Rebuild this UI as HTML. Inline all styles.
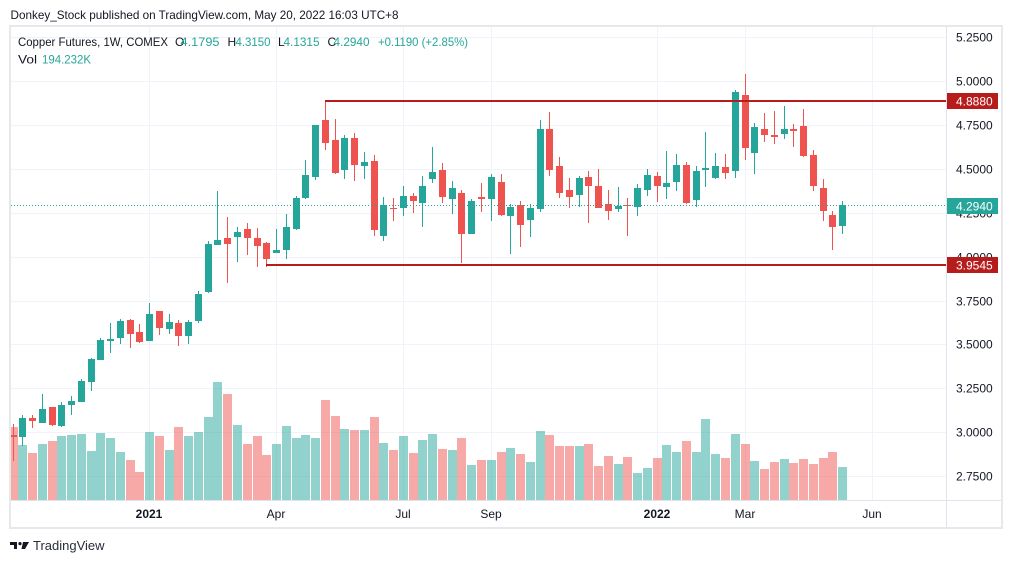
<!DOCTYPE html>
<html><head><meta charset="utf-8"><style>
html,body{margin:0;padding:0;background:#fff;}
svg{display:block;}
text{font-family:"Liberation Sans",sans-serif;}
</style></head><body>
<svg width="1012" height="563" viewBox="0 0 1012 563" xmlns="http://www.w3.org/2000/svg">
<defs><clipPath id="pc"><rect x="11" y="27" width="935" height="473"/></clipPath></defs>
<rect x="0" y="0" width="1012" height="563" fill="#fff"/>
<text x="10.5" y="19" font-size="12" fill="#131722" textLength="388" lengthAdjust="spacingAndGlyphs">Donkey_Stock published on TradingView.com, May 20, 2022 16:03 UTC+8</text>
<rect x="10" y="26" width="992" height="502" fill="#fff" stroke="#e6e8ec" stroke-width="2"/>
<g stroke="#f0f3fa" stroke-width="1">
<line x1="11" y1="37.5" x2="946" y2="37.5"/><line x1="11" y1="81.5" x2="946" y2="81.5"/><line x1="11" y1="125.5" x2="946" y2="125.5"/><line x1="11" y1="169.5" x2="946" y2="169.5"/><line x1="11" y1="213.5" x2="946" y2="213.5"/><line x1="11" y1="257.5" x2="946" y2="257.5"/><line x1="11" y1="301.5" x2="946" y2="301.5"/><line x1="11" y1="344.5" x2="946" y2="344.5"/><line x1="11" y1="388.5" x2="946" y2="388.5"/><line x1="11" y1="432.5" x2="946" y2="432.5"/><line x1="11" y1="476.5" x2="946" y2="476.5"/>
<line x1="149.5" y1="27" x2="149.5" y2="500"/><line x1="276.5" y1="27" x2="276.5" y2="500"/><line x1="403.5" y1="27" x2="403.5" y2="500"/><line x1="491.5" y1="27" x2="491.5" y2="500"/><line x1="657.5" y1="27" x2="657.5" y2="500"/><line x1="745.5" y1="27" x2="745.5" y2="500"/><line x1="872.5" y1="27" x2="872.5" y2="500"/>
</g>
<g clip-path="url(#pc)">
<g fill="#26a69a" fill-opacity="0.5">
<rect x="18" y="445" width="9" height="55"/><rect x="38" y="444" width="9" height="56"/><rect x="57" y="436" width="9" height="64"/><rect x="67" y="435" width="9" height="65"/><rect x="77" y="434" width="9" height="66"/><rect x="87" y="451" width="9" height="49"/><rect x="96" y="433" width="9" height="67"/><rect x="106" y="438" width="9" height="62"/><rect x="116" y="452" width="9" height="48"/><rect x="145" y="432" width="9" height="68"/><rect x="165" y="450" width="9" height="50"/><rect x="184" y="436" width="9" height="64"/><rect x="194" y="432" width="9" height="68"/><rect x="204" y="417" width="9" height="83"/><rect x="213" y="382" width="9" height="118"/><rect x="233" y="425" width="9" height="75"/><rect x="272" y="444" width="9" height="56"/><rect x="282" y="426" width="9" height="74"/><rect x="292" y="438" width="9" height="62"/><rect x="301" y="435" width="9" height="65"/><rect x="311" y="438" width="9" height="62"/><rect x="340" y="429" width="9" height="71"/><rect x="360" y="430" width="9" height="70"/><rect x="379" y="443" width="9" height="57"/><rect x="399" y="436" width="9" height="64"/><rect x="418" y="440" width="9" height="60"/><rect x="428" y="434" width="9" height="66"/><rect x="448" y="450" width="9" height="50"/><rect x="467" y="465" width="9" height="35"/><rect x="487" y="460" width="9" height="40"/><rect x="506" y="448" width="9" height="52"/><rect x="526" y="462" width="9" height="38"/><rect x="536" y="431" width="9" height="69"/><rect x="575" y="446" width="9" height="54"/><rect x="614" y="464" width="9" height="36"/><rect x="633" y="473" width="9" height="27"/><rect x="643" y="468" width="9" height="32"/><rect x="662" y="445" width="9" height="55"/><rect x="672" y="452" width="9" height="48"/><rect x="692" y="452" width="9" height="48"/><rect x="701" y="419" width="9" height="81"/><rect x="711" y="454" width="9" height="46"/><rect x="731" y="434" width="9" height="66"/><rect x="750" y="461" width="9" height="39"/><rect x="780" y="459" width="9" height="41"/><rect x="838" y="467" width="9" height="33"/>
</g>
<g fill="#ef5350" fill-opacity="0.5">
<rect x="9" y="427" width="9" height="73"/><rect x="28" y="453" width="9" height="47"/><rect x="48" y="441" width="9" height="59"/><rect x="126" y="460" width="9" height="40"/><rect x="135" y="472" width="9" height="28"/><rect x="155" y="436" width="9" height="64"/><rect x="174" y="427" width="9" height="73"/><rect x="223" y="394" width="9" height="106"/><rect x="243" y="444" width="9" height="56"/><rect x="253" y="436" width="9" height="64"/><rect x="262" y="455" width="9" height="45"/><rect x="321" y="400" width="9" height="100"/><rect x="331" y="416" width="9" height="84"/><rect x="350" y="430" width="9" height="70"/><rect x="370" y="417" width="9" height="83"/><rect x="389" y="450" width="9" height="50"/><rect x="409" y="453" width="9" height="47"/><rect x="438" y="449" width="9" height="51"/><rect x="457" y="438" width="9" height="62"/><rect x="477" y="460" width="9" height="40"/><rect x="497" y="452" width="9" height="48"/><rect x="516" y="454" width="9" height="46"/><rect x="545" y="435" width="9" height="65"/><rect x="555" y="446" width="9" height="54"/><rect x="565" y="446" width="9" height="54"/><rect x="584" y="444" width="9" height="56"/><rect x="594" y="466" width="9" height="34"/><rect x="604" y="456" width="9" height="44"/><rect x="623" y="457" width="9" height="43"/><rect x="653" y="458" width="9" height="42"/><rect x="682" y="441" width="9" height="59"/><rect x="721" y="458" width="9" height="42"/><rect x="741" y="444" width="9" height="56"/><rect x="760" y="469" width="9" height="31"/><rect x="770" y="462" width="9" height="38"/><rect x="789" y="463" width="9" height="37"/><rect x="799" y="459" width="9" height="41"/><rect x="809" y="464" width="9" height="36"/><rect x="819" y="458" width="9" height="42"/><rect x="828" y="452" width="9" height="48"/>
</g>
<g fill="#26a69a">
<rect x="22" y="415" width="1" height="31"/><rect x="19" y="418" width="7" height="19"/>
<rect x="42" y="394" width="1" height="29"/><rect x="39" y="409" width="7" height="14"/>
<rect x="61" y="402" width="1" height="25"/><rect x="58" y="405" width="7" height="21"/>
<rect x="71" y="396" width="1" height="19"/><rect x="68" y="401" width="7" height="4"/>
<rect x="81" y="379" width="1" height="23"/><rect x="78" y="381" width="7" height="21"/>
<rect x="91" y="358" width="1" height="33"/><rect x="88" y="359" width="7" height="23"/>
<rect x="100" y="338" width="1" height="22"/><rect x="97" y="340" width="7" height="20"/>
<rect x="110" y="323" width="1" height="30"/><rect x="107" y="339" width="7" height="2"/>
<rect x="120" y="319" width="1" height="25"/><rect x="117" y="321" width="7" height="17"/>
<rect x="149" y="303" width="1" height="38"/><rect x="146" y="314" width="7" height="27"/>
<rect x="169" y="314" width="1" height="20"/><rect x="166" y="322" width="7" height="7"/>
<rect x="188" y="320" width="1" height="24"/><rect x="185" y="322" width="7" height="14"/>
<rect x="198" y="291" width="1" height="32"/><rect x="195" y="294" width="7" height="27"/>
<rect x="208" y="241" width="1" height="52"/><rect x="205" y="244" width="7" height="48"/>
<rect x="217" y="191" width="1" height="54"/><rect x="214" y="240" width="7" height="5"/>
<rect x="237" y="227" width="1" height="35"/><rect x="234" y="232" width="7" height="5"/>
<rect x="276" y="229" width="1" height="24"/><rect x="273" y="250" width="7" height="3"/>
<rect x="286" y="214" width="1" height="45"/><rect x="283" y="227" width="7" height="23"/>
<rect x="296" y="196" width="1" height="34"/><rect x="293" y="198" width="7" height="31"/>
<rect x="305" y="160" width="1" height="39"/><rect x="302" y="175" width="7" height="23"/>
<rect x="315" y="125" width="1" height="55"/><rect x="312" y="125" width="7" height="52"/>
<rect x="344" y="135" width="1" height="44"/><rect x="341" y="138" width="7" height="32"/>
<rect x="364" y="152" width="1" height="27"/><rect x="361" y="162" width="7" height="4"/>
<rect x="383" y="197" width="1" height="44"/><rect x="380" y="205" width="7" height="31"/>
<rect x="403" y="186" width="1" height="30"/><rect x="400" y="196" width="7" height="12"/>
<rect x="422" y="176" width="1" height="51"/><rect x="419" y="186" width="7" height="17"/>
<rect x="432" y="147" width="1" height="36"/><rect x="429" y="172" width="7" height="7"/>
<rect x="452" y="181" width="1" height="33"/><rect x="449" y="188" width="7" height="11"/>
<rect x="471" y="199" width="1" height="35"/><rect x="468" y="201" width="7" height="33"/>
<rect x="491" y="174" width="1" height="47"/><rect x="488" y="177" width="7" height="22"/>
<rect x="510" y="204" width="1" height="50"/><rect x="507" y="207" width="7" height="9"/>
<rect x="530" y="204" width="1" height="33"/><rect x="527" y="208" width="7" height="12"/>
<rect x="540" y="120" width="1" height="92"/><rect x="537" y="129" width="7" height="80"/>
<rect x="579" y="176" width="1" height="31"/><rect x="576" y="178" width="7" height="17"/>
<rect x="618" y="187" width="1" height="25"/><rect x="615" y="206" width="7" height="3"/>
<rect x="637" y="184" width="1" height="32"/><rect x="634" y="188" width="7" height="19"/>
<rect x="647" y="169" width="1" height="27"/><rect x="644" y="175" width="7" height="15"/>
<rect x="666" y="151" width="1" height="48"/><rect x="663" y="183" width="7" height="4"/>
<rect x="676" y="154" width="1" height="37"/><rect x="673" y="165" width="7" height="17"/>
<rect x="696" y="166" width="1" height="41"/><rect x="693" y="171" width="7" height="29"/>
<rect x="705" y="132" width="1" height="55"/><rect x="702" y="168" width="7" height="2"/>
<rect x="715" y="153" width="1" height="26"/><rect x="712" y="166" width="7" height="12"/>
<rect x="735" y="90" width="1" height="88"/><rect x="732" y="92" width="7" height="79"/>
<rect x="754" y="123" width="1" height="51"/><rect x="751" y="127" width="7" height="26"/>
<rect x="784" y="106" width="1" height="33"/><rect x="781" y="129" width="7" height="5"/>
<rect x="842" y="201" width="1" height="33"/><rect x="839" y="205" width="7" height="21"/>
</g>
<g fill="#ef5350">
<rect x="13" y="424" width="1" height="37"/><rect x="10" y="435" width="7" height="2"/>
<rect x="32" y="415" width="1" height="13"/><rect x="29" y="418" width="7" height="3"/>
<rect x="52" y="407" width="1" height="19"/><rect x="49" y="407" width="7" height="18"/>
<rect x="130" y="319" width="1" height="29"/><rect x="127" y="320" width="7" height="14"/>
<rect x="139" y="324" width="1" height="19"/><rect x="136" y="332" width="7" height="10"/>
<rect x="159" y="311" width="1" height="24"/><rect x="156" y="311" width="7" height="17"/>
<rect x="178" y="320" width="1" height="26"/><rect x="175" y="323" width="7" height="13"/>
<rect x="227" y="217" width="1" height="66"/><rect x="224" y="238" width="7" height="6"/>
<rect x="247" y="223" width="1" height="32"/><rect x="244" y="229" width="7" height="9"/>
<rect x="257" y="228" width="1" height="39"/><rect x="254" y="238" width="7" height="8"/>
<rect x="266" y="242" width="1" height="25"/><rect x="263" y="243" width="7" height="16"/>
<rect x="325" y="100" width="1" height="50"/><rect x="322" y="120" width="7" height="23"/>
<rect x="335" y="119" width="1" height="55"/><rect x="332" y="140" width="7" height="33"/>
<rect x="354" y="133" width="1" height="48"/><rect x="351" y="138" width="7" height="27"/>
<rect x="374" y="155" width="1" height="81"/><rect x="371" y="161" width="7" height="69"/>
<rect x="393" y="198" width="1" height="23"/><rect x="390" y="208" width="7" height="1"/>
<rect x="413" y="193" width="1" height="20"/><rect x="410" y="196" width="7" height="5"/>
<rect x="442" y="163" width="1" height="40"/><rect x="439" y="170" width="7" height="27"/>
<rect x="461" y="190" width="1" height="73"/><rect x="458" y="193" width="7" height="41"/>
<rect x="481" y="183" width="1" height="29"/><rect x="478" y="197" width="7" height="2"/>
<rect x="501" y="174" width="1" height="42"/><rect x="498" y="182" width="7" height="33"/>
<rect x="520" y="201" width="1" height="46"/><rect x="517" y="205" width="7" height="20"/>
<rect x="549" y="112" width="1" height="64"/><rect x="546" y="129" width="7" height="41"/>
<rect x="559" y="157" width="1" height="41"/><rect x="556" y="166" width="7" height="27"/>
<rect x="569" y="178" width="1" height="30"/><rect x="566" y="190" width="7" height="7"/>
<rect x="588" y="171" width="1" height="52"/><rect x="585" y="177" width="7" height="9"/>
<rect x="598" y="169" width="1" height="39"/><rect x="595" y="186" width="7" height="22"/>
<rect x="608" y="190" width="1" height="30"/><rect x="605" y="204" width="7" height="7"/>
<rect x="627" y="198" width="1" height="38"/><rect x="624" y="205" width="7" height="1"/>
<rect x="657" y="172" width="1" height="30"/><rect x="654" y="176" width="7" height="10"/>
<rect x="686" y="162" width="1" height="42"/><rect x="683" y="165" width="7" height="38"/>
<rect x="725" y="154" width="1" height="25"/><rect x="722" y="167" width="7" height="6"/>
<rect x="745" y="74" width="1" height="86"/><rect x="742" y="95" width="7" height="53"/>
<rect x="764" y="113" width="1" height="29"/><rect x="761" y="129" width="7" height="6"/>
<rect x="774" y="111" width="1" height="33"/><rect x="771" y="135" width="7" height="2"/>
<rect x="793" y="124" width="1" height="23"/><rect x="790" y="129" width="7" height="2"/>
<rect x="803" y="109" width="1" height="48"/><rect x="800" y="126" width="7" height="30"/>
<rect x="813" y="150" width="1" height="41"/><rect x="810" y="155" width="7" height="31"/>
<rect x="823" y="179" width="1" height="42"/><rect x="820" y="188" width="7" height="23"/>
<rect x="832" y="211" width="1" height="39"/><rect x="829" y="215" width="7" height="12"/>
</g>
</g>
<rect x="325" y="100" width="621" height="2" fill="#b71c1c"/>
<rect x="266" y="264" width="680" height="2" fill="#b71c1c"/>
<line x1="11" y1="205.5" x2="946" y2="205.5" stroke="#26a69a" stroke-width="1" stroke-dasharray="1 2"/>
<line x1="11" y1="500.5" x2="1001" y2="500.5" stroke="#e0e3eb" stroke-width="1"/>
<line x1="946.5" y1="27" x2="946.5" y2="527" stroke="#e0e3eb" stroke-width="1"/>
<g font-size="12" fill="#131722">
<text x="956" y="41.3">5.2500</text><text x="956" y="85.3">5.0000</text><text x="956" y="129.3">4.7500</text><text x="956" y="173.3">4.5000</text><text x="956" y="217.3">4.2500</text><text x="956" y="261.3">4.0000</text><text x="956" y="305.3">3.7500</text><text x="956" y="348.3">3.5000</text><text x="956" y="392.3">3.2500</text><text x="956" y="436.3">3.0000</text><text x="956" y="480.3">2.7500</text>
</g>
<rect x="947" y="93" width="51" height="16" fill="#b71c1c"/>
<text x="956" y="105.3" font-size="12" fill="#fff">4.8880</text>
<rect x="947" y="198" width="51" height="16" fill="#26a69a"/>
<text x="956" y="210.3" font-size="12" fill="#fff">4.2940</text>
<rect x="947" y="257" width="51" height="16" fill="#b71c1c"/>
<text x="956" y="269.3" font-size="12" fill="#fff">3.9545</text>
<g font-size="12" fill="#131722" text-anchor="middle">
<text x="149" y="518" font-weight="bold">2021</text><text x="276" y="518">Apr</text><text x="403" y="518">Jul</text><text x="491" y="518">Sep</text><text x="657" y="518" font-weight="bold">2022</text><text x="745" y="518">Mar</text><text x="872" y="518">Jun</text>
</g>
<g font-size="12">
<text x="18" y="46" fill="#131722" textLength="150" lengthAdjust="spacingAndGlyphs">Copper Futures, 1W, COMEX</text>
<text x="175" y="46" fill="#131722">O</text><text x="180.5" y="46" fill="#26a69a" textLength="39" lengthAdjust="spacingAndGlyphs">4.1795</text>
<text x="227.5" y="46" fill="#131722">H</text><text x="235.5" y="46" fill="#26a69a" textLength="35" lengthAdjust="spacingAndGlyphs">4.3150</text>
<text x="278" y="46" fill="#131722">L</text><text x="283.5" y="46" fill="#26a69a" textLength="36" lengthAdjust="spacingAndGlyphs">4.1315</text>
<text x="327.5" y="46" fill="#131722">C</text><text x="333.5" y="46" fill="#26a69a" textLength="36" lengthAdjust="spacingAndGlyphs">4.2940</text>
<text x="378" y="46" fill="#26a69a" textLength="90" lengthAdjust="spacingAndGlyphs">+0.1190 (+2.85%)</text>
<text x="18" y="63.5" fill="#131722" textLength="19" lengthAdjust="spacingAndGlyphs">Vol</text><text x="42" y="63.5" fill="#26a69a" textLength="49" lengthAdjust="spacingAndGlyphs">194.232K</text>
</g>
<g fill="#131722">
<rect x="10" y="542" width="7" height="3"/><rect x="14" y="542" width="3" height="7"/>
<circle cx="20" cy="543.6" r="1.6"/>
<polygon points="23,542 29,542 25,549 21.5,549"/>
</g>
<text x="33" y="550" font-size="13" fill="#2a2e39">TradingView</text>
</svg>
</body></html>
